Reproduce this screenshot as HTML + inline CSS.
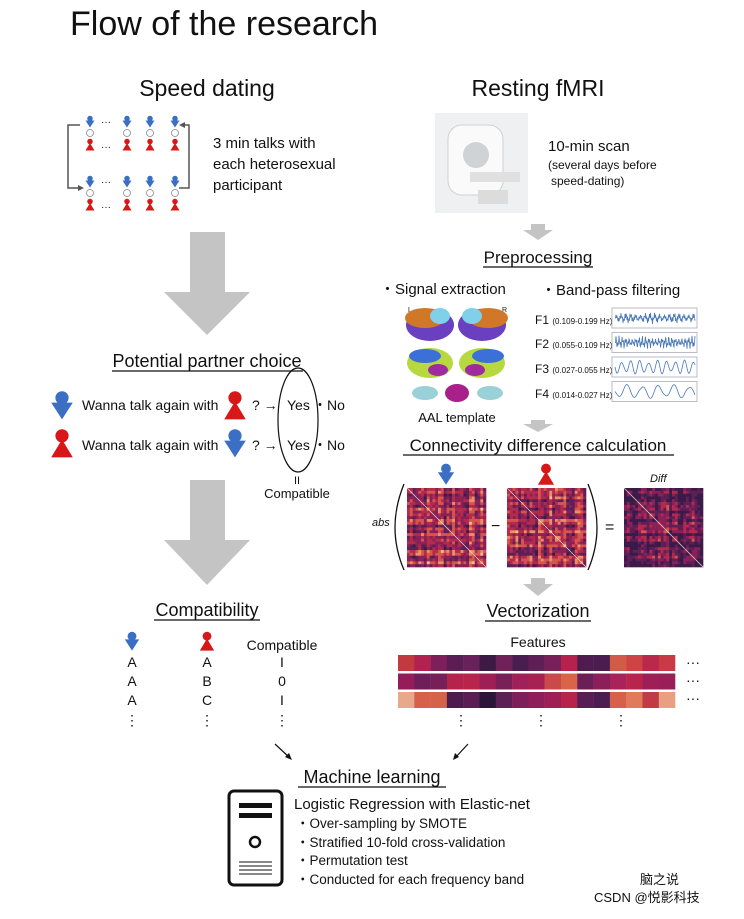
<!DOCTYPE html>
<html><head><meta charset="utf-8"><style>
body{margin:0;background:#fff;}
svg text{font-family:"Liberation Sans","Noto Sans CJK SC",sans-serif;fill:#111;}
</style></head><body>
<svg id="s" width="744" height="914" viewBox="0 0 744 914" xmlns="http://www.w3.org/2000/svg">
<defs>
<symbol id="m" viewBox="0 0 20 24"><circle cx="10" cy="6" r="5.5" fill="#3a6fc4"/><polygon points="1,10 19,10 10,24" fill="#3a6fc4"/></symbol>
<symbol id="f" viewBox="0 0 20 24"><circle cx="10" cy="6" r="5.5" fill="#d81818"/><polygon points="10,9 19,24 1,24" fill="#d81818"/></symbol>
</defs>
<text x="70" y="35" font-size="34">Flow of the research</text>
<text x="207" y="96" font-size="23" text-anchor="middle">Speed dating</text>
<text x="538" y="96" font-size="23" text-anchor="middle">Resting fMRI</text>

<g id="grid"></g>
<path d="M80,125 H68 V188 H78" fill="none" stroke="#555" stroke-width="1.5"/><polygon points="78,185 84,188 78,191" fill="#555"/>
<path d="M183,125 H189 V188 H179" fill="none" stroke="#555" stroke-width="1.5"/><polygon points="185,122 179,125 185,128" fill="#555"/>
<text x="213" y="148" font-size="15">3 min talks with</text>
<text x="213" y="169" font-size="15">each heterosexual</text>
<text x="213" y="190" font-size="15">participant</text>

<rect x="435" y="113" width="93" height="100" fill="#eef0f2"/>
<rect x="448" y="125" width="55" height="70" rx="14" fill="#fafafa" stroke="#d0d0d0"/>
<circle cx="476" cy="155" r="13" fill="#cfd3d6"/>
<rect x="470" y="172" width="50" height="10" fill="#e0e0e0"/>
<rect x="478" y="190" width="30" height="14" fill="#dcdcdc"/>
<text x="548" y="151" font-size="15">10-min scan</text>
<text x="548" y="169" font-size="12">(several days before</text>
<text x="551" y="185" font-size="12">speed-dating)</text>

<polygon points="190,232 225,232 225,292 250,292 207,335 164,292 190,292" fill="#c4c4c4"/>
<polygon points="190,480 225,480 225,540 250,540 207,585 164,540 190,540" fill="#c4c4c4"/>
<polygon points="531,224 545,224 545,230 553,230 538,240 523,230 531,230" fill="#c4c4c4"/>
<polygon points="531,420 545,420 545,424 553,424 538,432 523,424 531,424" fill="#c4c4c4"/>
<polygon points="531,578 545,578 545,584 553,584 538,596 523,584 531,584" fill="#c4c4c4"/>

<text x="207" y="367" font-size="18" text-anchor="middle">Potential partner choice</text>
<line x1="112" y1="371" x2="303" y2="371" stroke="#111" stroke-width="1.2"/>
<use href="#m" x="50" y="390" width="24" height="30"/>
<text x="82" y="410" font-size="14">Wanna talk again with</text>
<use href="#f" x="223" y="390" width="24" height="30"/>
<text x="252" y="410" font-size="14">?  →</text>
<text x="287" y="410" font-size="14">Yes</text><text x="313" y="410" font-size="14">・No</text>
<use href="#f" x="50" y="428" width="24" height="30"/>
<text x="82" y="450" font-size="14">Wanna talk again with</text>
<use href="#m" x="223" y="428" width="24" height="30"/>
<text x="252" y="450" font-size="14">?  →</text>
<text x="287" y="450" font-size="14">Yes</text><text x="313" y="450" font-size="14">・No</text>
<ellipse cx="298" cy="420" rx="20" ry="52" fill="none" stroke="#111" stroke-width="1.2"/>
<text x="297" y="484" font-size="11" text-anchor="middle">II</text>
<text x="297" y="498" font-size="13" text-anchor="middle">Compatible</text>

<text x="207" y="616" font-size="18" text-anchor="middle">Compatibility</text>
<line x1="154" y1="620" x2="260" y2="620" stroke="#111" stroke-width="1.2"/>
<use href="#m" x="124" y="630" width="16" height="22"/>
<use href="#f" x="199" y="630" width="16" height="22"/>
<text x="282" y="650" font-size="14" text-anchor="middle">Compatible</text>
<g font-size="14" text-anchor="middle">
<text x="132" y="667">A</text><text x="207" y="667">A</text><text x="282" y="667">I</text>
<text x="132" y="686">A</text><text x="207" y="686">B</text><text x="282" y="686">0</text>
<text x="132" y="705">A</text><text x="207" y="705">C</text><text x="282" y="705">I</text>
<text x="132" y="725">⋮</text><text x="207" y="725">⋮</text><text x="282" y="725">⋮</text>
</g>

<text x="538" y="263" font-size="17" text-anchor="middle">Preprocessing</text>
<line x1="483" y1="267" x2="593" y2="267" stroke="#111" stroke-width="1.2"/>
<text x="380" y="294" font-size="15">・Signal extraction</text>
<text x="541" y="295" font-size="15">・Band-pass filtering</text>
<text x="408" y="312" font-size="7" fill="#777">L</text><text x="502" y="312" font-size="7" fill="#777">R</text>
<ellipse cx="430" cy="325" rx="24" ry="16" fill="#6a3fc0"/><ellipse cx="425" cy="318" rx="20" ry="10" fill="#d07828"/><ellipse cx="440" cy="316" rx="10" ry="8" fill="#7fd0e8"/>
<ellipse cx="482" cy="325" rx="24" ry="16" fill="#6a3fc0"/><ellipse cx="488" cy="318" rx="20" ry="10" fill="#d07828"/><ellipse cx="472" cy="316" rx="10" ry="8" fill="#7fd0e8"/>
<ellipse cx="430" cy="363" rx="23" ry="15" fill="#b8d840"/><ellipse cx="425" cy="356" rx="16" ry="7" fill="#3a70d8"/><ellipse cx="438" cy="370" rx="10" ry="6" fill="#a02aa0"/>
<ellipse cx="482" cy="363" rx="23" ry="15" fill="#b8d840"/><ellipse cx="488" cy="356" rx="16" ry="7" fill="#3a70d8"/><ellipse cx="475" cy="370" rx="10" ry="6" fill="#a02aa0"/>
<ellipse cx="425" cy="393" rx="13" ry="7" fill="#9ad0d8"/><ellipse cx="457" cy="393" rx="12" ry="9" fill="#a8208a"/><ellipse cx="490" cy="393" rx="13" ry="7" fill="#9ad0d8"/>
<text x="457" y="422" font-size="13" text-anchor="middle">AAL template</text>
<g font-size="12"><text x="535" y="324">F1 <tspan font-size="8">(0.109-0.199 Hz)</tspan></text>
<text x="535" y="348">F2 <tspan font-size="8">(0.055-0.109 Hz)</tspan></text>
<text x="535" y="373">F3 <tspan font-size="8">(0.027-0.055 Hz)</tspan></text>
<text x="535" y="398">F4 <tspan font-size="8">(0.014-0.027 Hz)</tspan></text></g>
<g id="waves"></g>

<text x="538" y="451" font-size="17" text-anchor="middle">Connectivity difference calculation</text>
<line x1="403" y1="455" x2="674" y2="455" stroke="#111" stroke-width="1.2"/>
<use href="#m" x="437" y="462" width="18" height="24"/>
<use href="#f" x="537" y="462" width="18" height="24"/>
<text x="372" y="526" font-size="11" font-style="italic" font-family="Liberation Serif">abs</text>
<path d="M404,484 Q386,528 404,570" fill="none" stroke="#111" stroke-width="1.3"/>
<path d="M588,484 Q606,528 588,570" fill="none" stroke="#111" stroke-width="1.3"/>
<text x="491" y="531" font-size="16">−</text>
<text x="605" y="532" font-size="16">=</text>
<text x="650" y="482" font-size="11" font-style="italic" font-family="Liberation Serif">Diff</text>
<g id="mats"></g>

<text x="538" y="617" font-size="18" text-anchor="middle">Vectorization</text>
<line x1="485" y1="621" x2="591" y2="621" stroke="#111" stroke-width="1.2"/>
<text x="538" y="647" font-size="14" text-anchor="middle">Features</text>
<g id="feat"></g>
<g font-size="14"><text x="686" y="667">···</text><text x="686" y="685">···</text><text x="686" y="703">···</text>
<text x="454" y="725">⋮</text><text x="534" y="725">⋮</text><text x="614" y="725">⋮</text></g>

<line x1="275" y1="744" x2="290" y2="758" stroke="#111" stroke-width="1.2"/><polygon points="292,760 285,757 289,753" fill="#111"/>
<line x1="468" y1="744" x2="455" y2="758" stroke="#111" stroke-width="1.2"/><polygon points="453,760 455,753 459,757" fill="#111"/>

<text x="372" y="783" font-size="18" text-anchor="middle">Machine learning</text>
<line x1="298" y1="787" x2="446" y2="787" stroke="#111" stroke-width="1.2"/>
<rect x="229" y="791" width="53" height="94" rx="5" fill="none" stroke="#111" stroke-width="3"/>
<rect x="239" y="803" width="33" height="5" fill="#111"/><rect x="239" y="813" width="33" height="5" fill="#111"/>
<circle cx="255" cy="842" r="5" fill="none" stroke="#111" stroke-width="2.5"/>
<g stroke="#111"><line x1="239" y1="862" x2="272" y2="862"/><line x1="239" y1="866" x2="272" y2="866"/><line x1="239" y1="870" x2="272" y2="870"/><line x1="239" y1="874" x2="272" y2="874"/></g>
<text x="294" y="809" font-size="15">Logistic Regression with Elastic-net</text>
<g font-size="13.5"><text x="296" y="828">・Over-sampling by SMOTE</text>
<text x="296" y="847">・Stratified 10-fold cross-validation</text>
<text x="296" y="865">・Permutation test</text>
<text x="296" y="884">・Conducted for each frequency band</text></g>
<text x="640" y="884" font-size="13" fill="#333">脑之说</text>
<text x="594" y="902" font-size="13" fill="#333">CSDN @悦影科技</text>
</svg>
<script>
var NS="http://www.w3.org/2000/svg";
function el(p,t,a){var e=document.createElementNS(NS,t);for(var k in a)e.setAttribute(k,a[k]);p.appendChild(e);return e;}
var g=document.getElementById('grid');
[[112,123],[112,183]].forEach(function(r){[90,127,150,175].forEach(function(x){
 el(g,'use',{href:'#m',x:x-5,y:r[1]-8,width:10,height:13});
 el(g,'circle',{cx:x,cy:r[1]+10,r:3.5,fill:'none',stroke:'#888','stroke-width':0.8});
 el(g,'use',{href:'#f',x:x-5,y:r[1]+15,width:10,height:13});
});
 var t=el(g,'text',{x:101,y:r[1]+2,'font-size':10});t.textContent='···';
 var t2=el(g,'text',{x:101,y:r[1]+27,'font-size':10});t2.textContent='···';
});
var w=document.getElementById('waves');var fr=[0.9,0.6,0.35,0.2],amp=[6,7,7,7];
for(var i=0;i<4;i++){var y0=308+i*24.5;el(w,'rect',{x:612,y:y0,width:85,height:20,fill:'#fff',stroke:'#aab','stroke-width':0.8});
 var pts=[];for(var x=0;x<=80;x+=0.5){var a=amp[i]*(0.5+0.5*Math.abs(Math.sin(x*0.13+i)));pts.push((615+x)+','+(y0+10+a*Math.sin(x*fr[i]*2)*(i<2?Math.cos(x*3.1):1)));}
 el(w,'polyline',{points:pts.join(' '),fill:'none',stroke:'#4a78b8','stroke-width':0.8});}
var m=document.getElementById('mats');var seed=7;function rnd(){seed=(seed*9301+49297)%233280;return seed/233280;}
var pal=['#3a1a48','#5c1f56','#8a2058','#b52a4c','#d6564a','#e8906a','#f0c090'];
[[407,1],[507,1],[624,-1]].forEach(function(o){var x0=o[0],y0=488,n=28,s=79/n;var blk=[];for(var k=0;k<n;k++)blk.push(rnd());
 for(var r=0;r<n;r++)for(var c=0;c<=r;c++){var v=(blk[r]+blk[c])/2+rnd()*0.5-0.25;var idx=Math.floor(v*5)+(o[1]>0?1:-1);idx=Math.max(0,Math.min(6,idx));
  var col=pal[idx];el(m,'rect',{x:x0+c*s,y:y0+r*s,width:s+0.3,height:s+0.3,fill:col});if(c!=r)el(m,'rect',{x:x0+r*s,y:y0+c*s,width:s+0.3,height:s+0.3,fill:col});}
 el(m,'line',{x1:x0,y1:y0,x2:x0+79,y2:y0+79,stroke:'#f5d8c0','stroke-width':0.7});});
var F=[['c23a3e','b02250','7e1f5a','5a1e55','6a205a','3d1a45','6f2158','4a1c4f','5e1f57','7a2059','b5234c','4f1c50','4a1c4f','d45a48','cc4444','b8294a','c83b45'],
['951c5a','6e1f5a','752058','b5234c','b8244b','9e1f55','7a2059','a0205a','a82153','c94a47','d9644a','6a1f58','8a1f5a','a7235a','b8244c','9e1f56','9a1e58'],
['e8a98a','d6604a','d4634a','4c1c4f','5a1e55','2b1538','5e1f57','7e1f5a','8e1f5a','9e1f55','b8234c','571e53','4a1c4f','d6604a','e07a5a','c23a45','e8a080']];
var fg=document.getElementById('feat');F.forEach(function(row,r){row.forEach(function(c,i){el(fg,'rect',{x:398+i*16.3,y:655+r*18.5,width:16.5,height:16,fill:'#'+c});});});
</script>
</body></html>
